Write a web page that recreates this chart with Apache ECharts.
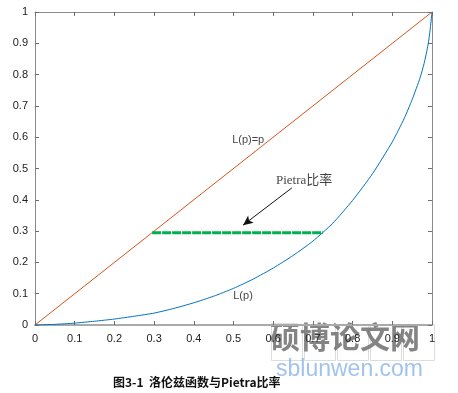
<!DOCTYPE html>
<html>
<head>
<meta charset="utf-8">
<script src="https://cdn.jsdelivr.net/npm/echarts@6/dist/echarts.min.js"></script>
<style>
  html, body { margin: 0; padding: 0; background: #fff; }
  #chart { width: 458px; height: 393px; }
</style>
</head>
<body>
<div id="chart"></div>
<script>
// 洛伦兹曲线 (从图上读出的点)
const pValues = [0, 0.05, 0.1, 0.15, 0.2, 0.25, 0.3, 0.35, 0.4, 0.45, 0.5, 0.55, 0.6, 0.65, 0.7, 0.75, 0.8, 0.85, 0.9, 0.93, 0.95, 0.97, 0.98, 0.99, 0.995, 1]
const lValues = [0, 0.002, 0.006, 0.012, 0.019, 0.028, 0.038, 0.053, 0.071, 0.092, 0.117, 0.147, 0.182, 0.222, 0.268, 0.325, 0.398, 0.483, 0.585, 0.66, 0.72, 0.79, 0.835, 0.895, 0.94, 1]
// 对角线 L(p)=p
const equalLine = [[0, 0], [1, 1]]
// Pietra 比率 (水平线)
const pietraLine = [[0.295, 0.295], [0.725, 0.295]]
// 箭头起止点
const arrowFrom = [0.647, 0.438]
const arrowTo = [0.524, 0.319]
// 文字标注
const notes = [
  { name: 'L(p)=p', value: [0.537, 0.591] },
  { name: 'L(p)', value: [0.524, 0.093] }
]
const pietraNote = [{ name: 'Pietra比率', value: [0.678, 0.463] }]
const tickLabels = ['0', '0.1', '0.2', '0.3', '0.4', '0.5', '0.6', '0.7', '0.8', '0.9', '1']

const chart = echarts.init(document.getElementById('chart'))

const fmt = v => tickLabels[Math.round(v * 10)]
const axisBase = {
  type: 'value', min: 0, max: 1, interval: 0.1,
  splitLine: { show: false },
  axisLine: { onZero: false, lineStyle: { color: '#8a8a8a', width: 1 } },
  axisTick: { inside: true, length: 4, lineStyle: { color: '#707070' } }
}

const option = {
  backgroundColor: '#fff',
  animation: false,
  grid: { left: 35, right: 26, top: 12, bottom: 68, containLabel: false },
  xAxis: [
    Object.assign({}, axisBase, {
      position: 'bottom',
      axisLine: { onZero: false, lineStyle: { color: '#aaaaaa', width: 2 } },
      axisLabel: { formatter: fmt, color: '#222', fontSize: 11, fontFamily: 'Liberation Sans', margin: 8 }
    }),
    Object.assign({}, axisBase, { position: 'top', axisLabel: { show: false } })
  ],
  yAxis: [
    Object.assign({}, axisBase, {
      position: 'left',
      axisLabel: { formatter: fmt, color: '#222', fontSize: 11, fontFamily: 'Liberation Sans', margin: 7 }
    }),
    Object.assign({}, axisBase, { position: 'right', axisLabel: { show: false } })
  ],
  series: [
    {
      name: 'L(p)=p', type: 'line', data: equalLine, symbol: 'none',
      lineStyle: { color: '#D95319', width: 1 }
    },
    {
      name: 'L(p)', type: 'line', smooth: 0.2, symbol: 'none',
      data: pValues.map((p, i) => [p, lValues[i]]),
      lineStyle: { color: '#0072BD', width: 1 }
    },
    {
      name: 'Pietra', type: 'line', data: pietraLine, symbol: 'none',
      lineStyle: { color: '#00B050', width: 3, type: [9, 1] },
      markLine: {
        silent: true, symbol: ['none', 'arrow'], symbolSize: [7, 10],
        label: { show: false },
        lineStyle: { color: '#111', width: 1, type: 'solid' },
        data: [[{ coord: arrowFrom }, { coord: arrowTo }]]
      }
    },
    {
      name: 'notes', type: 'scatter', symbolSize: 0, data: notes,
      label: {
        show: true, position: 'inside', formatter: '{b}',
        color: '#111', fontSize: 11, fontFamily: 'Liberation Sans'
      },
      labelLayout: { hideOverlap: false }
    },
    {
      name: 'pietraNote', type: 'scatter', symbolSize: 0, data: pietraNote,
      label: {
        show: true, position: 'inside', formatter: '{b}',
        color: '#111', fontSize: 13, fontFamily: '"Liberation Serif", "Noto Sans CJK SC"'
      },
      labelLayout: { hideOverlap: false }
    }
  ],
  graphic: [
    {
      type: 'text', left: 113, top: 376,
      style: { text: '图3-1  洛伦兹函数与Pietra比率', fill: '#111', font: 'bold 12px "Noto Sans CJK SC"', letterSpacing: 1.2 }
    },
    // 水印
    {
      type: 'group', left: 269, top: 322, silent: true,
      children: [0, 1, 2, 3, 4].map(i => ({
        type: 'rect', shape: { x: i * 33, y: 0, width: 31, height: 36 },
        style: { fill: 'none', stroke: '#dddddd', lineWidth: 1 }
      }))
    },
    {
      type: 'text', left: 270, top: 322, silent: true,
      style: { text: '硕博论文网', fill: 'rgba(110,110,110,0.85)', font: 'bold 30px "Noto Sans CJK SC"', letterSpacing: 3 }
    },
    {
      type: 'text', left: 276, top: 358, silent: true,
      style: { text: 'sblunwen.com', fill: 'rgba(120,170,230,0.7)', font: '23px "Liberation Sans"' }
    }
  ]
}
chart.setOption(option)
</script>
</body>
</html>
